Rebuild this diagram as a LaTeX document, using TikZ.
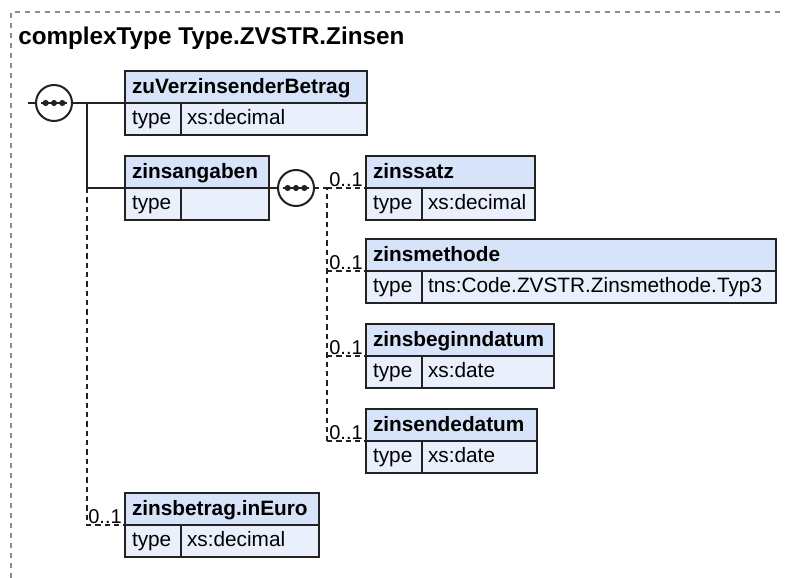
\documentclass[tikz,border=0pt]{standalone}
\usepackage{fontspec}
\setmainfont{Liberation Sans}
\usetikzlibrary{positioning, calc}
\definecolor{headfill}{RGB}{214,227,248}
\definecolor{cellfill}{RGB}{233,240,252}
\definecolor{boxline}{RGB}{34,34,34}
\definecolor{framegray}{RGB}{140,140,140}
\tikzset{
	elemhead/.style={rectangle, draw=boxline, fill=headfill, line width=1.5pt,
		outer sep=0pt, inner xsep=5.25pt, inner ysep=0pt,
		text width=#1-10.5pt, align=left, text height=16.5pt, text depth=7.5pt,
		anchor=north west, font=\bfseries\fontsize{15.6pt}{18pt}\selectfont},
	typecell/.style={rectangle, draw=boxline, fill=cellfill, line width=1.5pt,
		outer sep=0pt, inner xsep=5.25pt, inner ysep=0pt,
		text width=31.5pt, align=left, text height=15.75pt, text depth=8.25pt,
		anchor=north west, font=\fontsize{15.6pt}{18pt}\selectfont},
	valcell/.style={typecell, inner xsep=4.5pt, text width=#1-51pt},
	seq/.style={circle, draw=boxline, fill=white, line width=1.5pt,
		minimum size=27pt, inner sep=0pt, outer sep=0pt},
	solidline/.style={draw=boxline, line width=1.3pt},
	dashline/.style={draw=boxline, line width=1.3pt, dash pattern=on 4pt off 3pt},
	mult/.style={anchor=base east, inner sep=0pt, font=\fontsize{15pt}{18pt}\selectfont},
	outerframe/.style={draw=framegray, line width=1.1pt, dash pattern=on 4pt off 3.5pt}
}
\begin{document}
\begin{tikzpicture}[x=0.75pt, y=-0.75pt]
	\useasboundingbox (0,0) rectangle (785,578);
	
	%% ---- Outer frame and title ----
	\draw[outerframe] (11,578) -- (11,12) -- (785,12);
	\node[anchor=base west, inner sep=0pt,
	font=\bfseries\fontsize{18.2pt}{22pt}\selectfont] (title) at (18,44)
	{complexType Type.ZVSTR.Zinsen};
	
	%% ---- Top-level sequence ----
	\coordinate (entry) at (28,103);
	\node[seq] (seq1) at (54,103) {};
	
	%% ---- Top-level elements ----
	\node[elemhead=181.5pt] (betrag) at (125,71) {zuVerzinsenderBetrag};
	\node[typecell] (betrag-t) at (betrag.south west) {type};
	\node[valcell=181.5pt] (betrag-v) at (betrag-t.north east) {xs:decimal};
	
	\node[elemhead=108pt] (angaben) at (125,156) {zinsangaben};
	\node[typecell] (angaben-t) at (angaben.south west) {type};
	\node[valcell=108pt] (angaben-v) at (angaben-t.north east) {};
	
	\node[elemhead=145.5pt] (euro) at (125,493) {zinsbetrag.inEuro};
	\node[typecell] (euro-t) at (euro.south west) {type};
	\node[valcell=145.5pt] (euro-v) at (euro-t.north east) {xs:decimal};
	
	%% ---- Sequence inside zinsangaben ----
	\node[seq, right=6.75pt of angaben.south east] (seq2) {};
	
	\node[elemhead=126.75pt] (satz) at (366,156) {zinssatz};
	\node[typecell] (satz-t) at (satz.south west) {type};
	\node[valcell=126.75pt] (satz-v) at (satz-t.north east) {xs:decimal};
	
	\node[elemhead=307.5pt] (methode) at (366,239) {zinsmethode};
	\node[typecell] (methode-t) at (methode.south west) {type};
	\node[valcell=307.5pt] (methode-v) at (methode-t.north east) {tns:Code.ZVSTR.Zinsmethode.Typ3};
	
	\node[elemhead=141pt] (beginn) at (366,324) {zinsbeginndatum};
	\node[typecell] (beginn-t) at (beginn.south west) {type};
	\node[valcell=141pt] (beginn-v) at (beginn-t.north east) {xs:date};
	
	\node[elemhead=128.25pt] (ende) at (366,409) {zinsendedatum};
	\node[typecell] (ende-t) at (ende.south west) {type};
	\node[valcell=128.25pt] (ende-v) at (ende-t.north east) {xs:date};
	
	%% ---- Compositor dots ----
	\foreach \s in {seq1,seq2}{
		\draw[solidline] ([xshift=-9.75pt]\s.center) -- ([xshift=9.75pt]\s.center);
		\foreach \d in {-6.25,0,6.25}
		\fill[boxline] ([xshift=\d pt]\s.center) circle (2.3pt);
	}
	
	%% ---- Connectors: top-level sequence ----
	\coordinate (trunk) at ([xshift=11.25pt]seq1.east);
	\draw[solidline] (entry) -- (seq1.west);
	\draw[solidline] (seq1.east) -- (betrag.south west);
	\draw[solidline] (trunk) -- (trunk |- angaben.south west) -- (angaben.south west);
	\draw[dashline] (trunk |- angaben.south west) -- (trunk |- euro.south west)
	-- (euro.south west);
	\node[mult] (m-euro) at ([xshift=-2.25pt, yshift=1.5pt]euro.south west) {0..1};
	
	%% ---- Connectors: zinsangaben sequence ----
	\coordinate (fork) at ([xshift=9.75pt]seq2.east);
	\draw[solidline] (angaben.south east) -- (seq2.west);
	\draw[dashline] (seq2.east) -- (fork) -- (fork |- ende.south west);
	\foreach \c in {satz,methode,beginn,ende}{
		\draw[dashline] (fork |- \c.south west) -- (\c.south west);
		\node[mult] (m-\c) at ([xshift=-2.25pt, yshift=1.5pt]\c.south west) {0..1};
	}
	
\end{tikzpicture}
\end{document}
